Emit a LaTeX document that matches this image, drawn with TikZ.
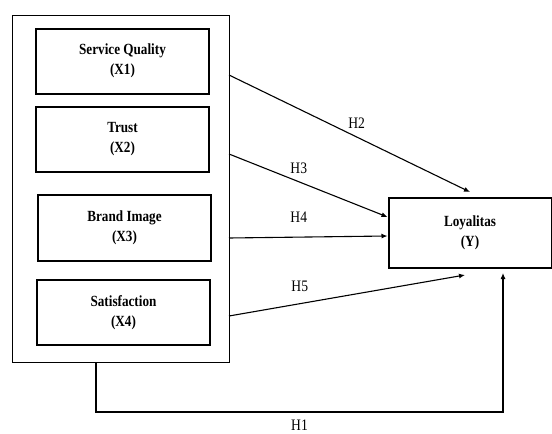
\documentclass[tikz,border=0pt]{standalone}
\usepackage{fontspec}
\setmainfont{Liberation Serif}
\newfontfamily\condfont[FakeStretch=0.85]{Liberation Serif}
\usetikzlibrary{positioning, arrows.meta}

\begin{document}
\begin{tikzpicture}[x=1pt, y=-1pt,
        varbox/.style={draw, line width=2pt, minimum width=173pt, minimum height=65pt, align=center, font=\condfont\bfseries\fontsize{15.5}{20}\selectfont},
        hyp/.style={-{Latex[length=6pt, width=5pt]}, line width=1.1pt},
        lbl/.style={font=\condfont\fontsize{16}{18}\selectfont}]
        \useasboundingbox (0,0) rectangle (552,434);
        % independent variables
        \node[draw, line width=0.9pt, minimum width=217pt, minimum height=347pt] (grp) at (120.5,188.5) {};
        \node[varbox] (sq) at (122.5,61) {Service Quality\\(X1)};
        \node[varbox] (tr) at (122.5,139.5) {Trust\\(X2)};
        \node[varbox, minimum height=66pt] (bi) at (124.5,228) {Brand Image\\(X3)};
        \node[varbox] (sat) at (123.5,312.5) {Satisfaction\\(X4)};
        % dependent variable
        \node[varbox, minimum width=163pt, minimum height=70pt] (loy) at (470,233) {Loyalitas\\(Y)};
        \coordinate (a2) at (229,75);
        \coordinate (a3) at (229,154);
        \coordinate (a4) at (229,238);
        \coordinate (a5) at (229,316);
        \coordinate (h1s) at (96,362);
        \coordinate (h1c) at (503,412);
        \draw[hyp] (a2) -- node[lbl, pos=0.53, above=5pt]{H2} ([yshift=5pt]loy.north);
        \draw[hyp] (a3) -- node[lbl, pos=0.44, above=4pt]{H3} ([yshift=16pt]loy.west);
        \draw[hyp] (a4) -- node[lbl, pos=0.44, above=11pt]{H4} ([yshift=-3pt]loy.west);
        \draw[hyp] (a5) -- node[lbl, pos=0.3, above=8pt]{H5} ([xshift=-5pt, yshift=-6pt]loy.south);
        \draw[hyp] (h1s) |- node[lbl, pos=0.75, below=4pt]{H1} (h1c) -- ([xshift=33pt, yshift=-4pt]loy.south);
    \end{tikzpicture}
\end{document}
